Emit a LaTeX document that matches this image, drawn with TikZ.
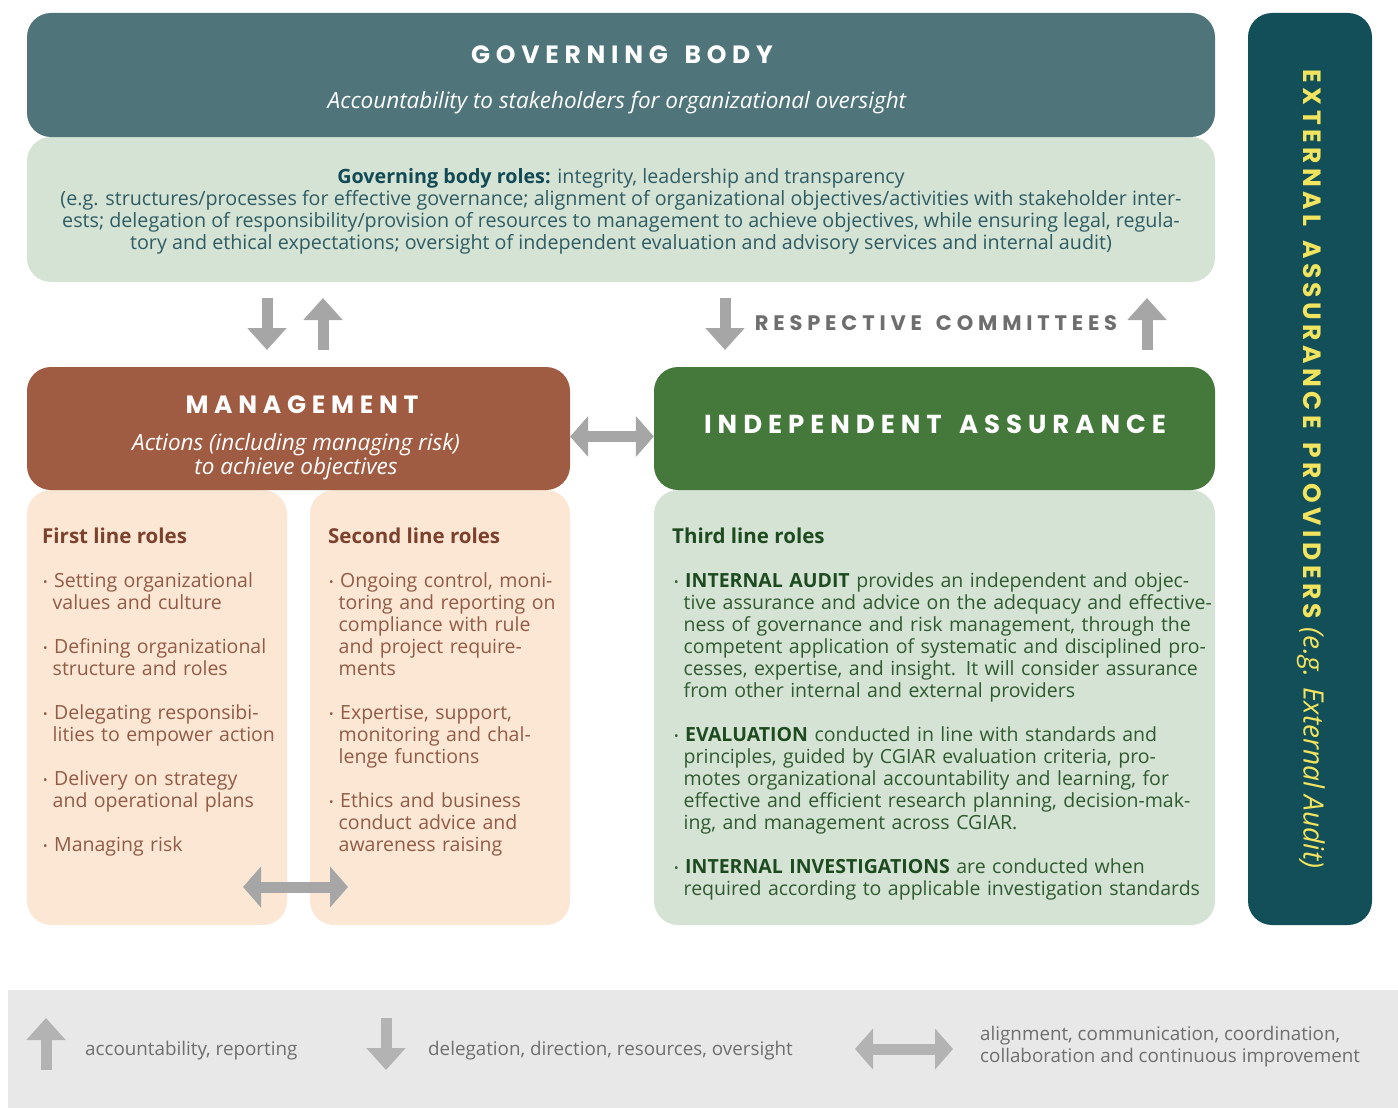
\documentclass[tikz,border=0pt]{standalone}
\usepackage{fontspec}
\usepackage{xcolor}
\usepackage{tikz}
\usetikzlibrary{arrows.meta}

\setmainfont{Open Sans}
\newfontfamily\capsfont[LetterSpace=23,WordSpace=1.5]{Poppins}
\newfontfamily\extcapsfont[LetterSpace=18,WordSpace=1.4]{Poppins}

\definecolor{govdark}{HTML}{4F757A}
\definecolor{govlight}{HTML}{D5E3D5}
\definecolor{govtext}{HTML}{2F5C63}
\definecolor{govbold}{HTML}{114A55}
\definecolor{mgmtbox}{HTML}{A05C43}
\definecolor{peach}{HTML}{FBE7D4}
\definecolor{mgmttext}{HTML}{915B46}
\definecolor{mgmtbold}{HTML}{7C412D}
\definecolor{iabox}{HTML}{44793B}
\definecolor{iatext}{HTML}{2F5A2F}
\definecolor{iabold}{HTML}{1D4A1E}
\definecolor{extbox}{HTML}{124F58}
\definecolor{extyellow}{HTML}{F2E45E}
\definecolor{arrowgray}{HTML}{A6A6A6}
\definecolor{keygray}{HTML}{B3B3B3}
\definecolor{legendbg}{HTML}{E8E8E8}
\definecolor{legendtext}{HTML}{6E6E6E}

\newcommand\bodyfont{\fontsize{19.5}{22}\selectfont}
\newcommand\headfont{\bfseries\fontsize{20.5}{22}\selectfont}
\newcommand\keyfont{\fontsize{18.8}{22}\selectfont}
% one bullet item; \rolebullet starts a new paragraph first
\newcommand\rolestart{\noindent\hangindent=9.5pt\hangafter=1%
  \makebox[11pt][l]{\raisebox{1pt}{\fontsize{12}{12}\selectfont\textbullet}}}
\newcommand\rolebullet{\par\rolestart}

\tikzset{
  panel/.style={rounded corners=24pt, inner sep=0pt},
  rolelist/.style={anchor=north west, inner sep=0pt, font=\bodyfont,
    execute at begin node={\raggedright\setlength{\parskip}{22pt}}},
  rolehead/.style={anchor=west, inner sep=0pt, font=\headfont},
  keytext/.style={anchor=west, inner sep=0pt, text=legendtext, font=\keyfont},
  flow/.style={draw=arrowgray, line width=11pt, -{Triangle[width=38pt,length=22pt]}},
  twoway/.style={draw=arrowgray, line width=11pt,
    {Triangle[width=40pt,length=18pt]}-{Triangle[width=40pt,length=18pt]}},
}

\begin{document}
\begin{tikzpicture}[x=1pt,y=-1pt]
\useasboundingbox (0,0) rectangle (1398,1108);

% governing body
\node[panel, fill=govlight, minimum width=1188pt, minimum height=145pt] (govroles) at (621,209.5) {};
\node[panel, fill=govdark, minimum width=1188pt, minimum height=124pt] (govbody) at (621,75) {};
\node[text=white, font=\capsfont\bfseries\fontsize{25}{27}\selectfont] (govtitle) at (622,55) {GOVERNING BODY};
\node[text=white, font=\itshape\fontsize{22.5}{24}\selectfont] (govsub) at (617,103)
  {Accountability to stakeholders for organizational oversight};
\node[text=govtext, align=center, font=\fontsize{19.7}{22}\selectfont] (govtext) at (621,211)
  {\textcolor{govbold}{\bfseries Governing body roles:} integrity, leadership and transparency\\
   (e.g. structures/processes for effective governance; alignment of organizational objectives/activities with stakeholder inter-\\
   ests; delegation of responsibility/provision of resources to management to achieve objectives, while ensuring legal, regula-\\
   tory and ethical expectations; oversight of independent evaluation and advisory services and internal audit)};

% management and the first two lines
\node[panel, fill=peach, minimum width=260pt, minimum height=435pt] (firstbox) at (157,707.5) {};
\node[panel, fill=peach, minimum width=260pt, minimum height=435pt] (secondbox) at (440,707.5) {};
\node[panel, fill=mgmtbox, minimum width=543pt, minimum height=123pt] (mgmt) at (298.5,428.5) {};
\node[text=white, font=\capsfont\bfseries\fontsize{25}{27}\selectfont] (mgmttitle) at (302,405) {MANAGEMENT};
\node[text=white, align=center, font=\itshape\fontsize{22.5}{24}\selectfont] (mgmtsub) at (296,457)
  {Actions (including managing risk)\\to achieve objectives};

\node[rolehead, text=mgmtbold] (firsthead) at (42,536) {First line roles};
\node[rolelist, text=mgmttext, text width=250pt] (firstlist) at (43,572) {%
  \rolestart Setting organizational\newline values and culture
  \rolebullet Defining organizational\newline structure and roles
  \rolebullet Delegating responsibi-\newline lities to empower action
  \rolebullet Delivery on strategy\newline and operational plans
  \rolebullet Managing risk\par};

\node[rolehead, text=mgmtbold] (secondhead) at (328,536) {Second line roles};
\node[rolelist, text=mgmttext, text width=250pt] (secondlist) at (329,572) {%
  \rolestart Ongoing control, moni-\newline toring and reporting on\newline compliance with rule\newline and project require-\newline ments
  \rolebullet Expertise, support,\newline monitoring and chal-\newline lenge functions
  \rolebullet Ethics and business\newline conduct advice and\newline awareness raising\par};

% independent assurance and the third line
\node[panel, fill=govlight, minimum width=561pt, minimum height=435pt] (thirdbox) at (934.5,707.5) {};
\node[panel, fill=iabox, minimum width=561pt, minimum height=123pt] (ia) at (934.5,428.5) {};
\node[text=white, font=\capsfont\bfseries\fontsize{26}{28}\selectfont] (iatitle) at (935,424) {INDEPENDENT ASSURANCE};

\node[rolehead, text=iabold] (thirdhead) at (672,536) {Third line roles};
\node[rolelist, text=iatext, text width=540pt] (thirdlist) at (674,572) {%
  \rolestart\textcolor{iabold}{\bfseries INTERNAL AUDIT} provides an independent and objec-\newline
    tive assurance and advice on the adequacy and effective-\newline
    ness of governance and risk management, through the\newline
    competent application of systematic and disciplined pro-\newline
    cesses, expertise, and insight. It will consider assurance\newline
    from other internal and external providers
  \rolebullet\textcolor{iabold}{\bfseries EVALUATION} conducted in line with standards and\newline
    principles, guided by CGIAR evaluation criteria, pro-\newline
    motes organizational accountability and learning, for\newline
    effective and efficient research planning, decision-mak-\newline
    ing, and management across CGIAR.
  \rolebullet\textcolor{iabold}{\bfseries INTERNAL INVESTIGATIONS} are conducted when\newline
    required according to applicable investigation standards\par};

% external providers
\node[panel, fill=extbox, minimum width=124pt, minimum height=912pt] (extbox) at (1310,469) {};
\node[rotate=-90, text=extyellow] (exttext) at (1311,469)
  {{\extcapsfont\bfseries\fontsize{25}{27}\selectfont EXTERNAL ASSURANCE PROVIDERS}\hspace{8pt}%
   {\itshape\fontsize{28}{30}\selectfont(e.g. External Audit)}};

% committees label
\node[text=legendtext, font=\capsfont\bfseries\fontsize{21}{23}\selectfont] (committees) at (936,323) {RESPECTIVE COMMITTEES};

% arrows between the lines
\coordinate (gbtop) at (267,298);
\coordinate (gbbot) at (267,350);
\coordinate (mgbot) at (323,350);
\coordinate (mgtop) at (323,298);
\coordinate (cmtop) at (725,298);
\coordinate (cmbot) at (725,350);
\coordinate (iabot) at (1147,350);
\coordinate (iatop) at (1147,298);
\coordinate (firstend) at (243,887);
\coordinate (secondend) at (348,887);
\draw[flow] (gbtop) -- (gbbot);
\draw[flow] (mgbot) -- (mgtop);
\draw[flow] (cmtop) -- (cmbot);
\draw[flow] (iabot) -- (iatop);
\draw[twoway] ([yshift=-8pt]mgmt.east) -- ([yshift=-8pt]ia.west);
\draw[twoway] (firstend) -- (secondend);

% legend
\node[fill=legendbg, minimum width=1390pt, minimum height=118pt, inner sep=0pt] (legend) at (703,1049) {};
\coordinate (upbot) at (46,1070);
\coordinate (uptop) at (46,1018);
\coordinate (dntop) at (386,1018);
\coordinate (dnbot) at (386,1070);
\coordinate (lrleft) at (855,1049);
\coordinate (lrright) at (953,1049);
\draw[flow, draw=keygray] (upbot) -- (uptop);
\draw[flow, draw=keygray] (dntop) -- (dnbot);
\draw[twoway, draw=keygray] (lrleft) -- (lrright);
\node[keytext] (upkey) at (85,1051) {accountability, reporting};
\node[keytext] (dnkey) at (428,1051) {delegation, direction, resources, oversight};
\node[keytext, align=left] (lrkey) at (980,1047)
  {alignment, communication, coordination,\\collaboration and continuous improvement};
\end{tikzpicture}
\end{document}
